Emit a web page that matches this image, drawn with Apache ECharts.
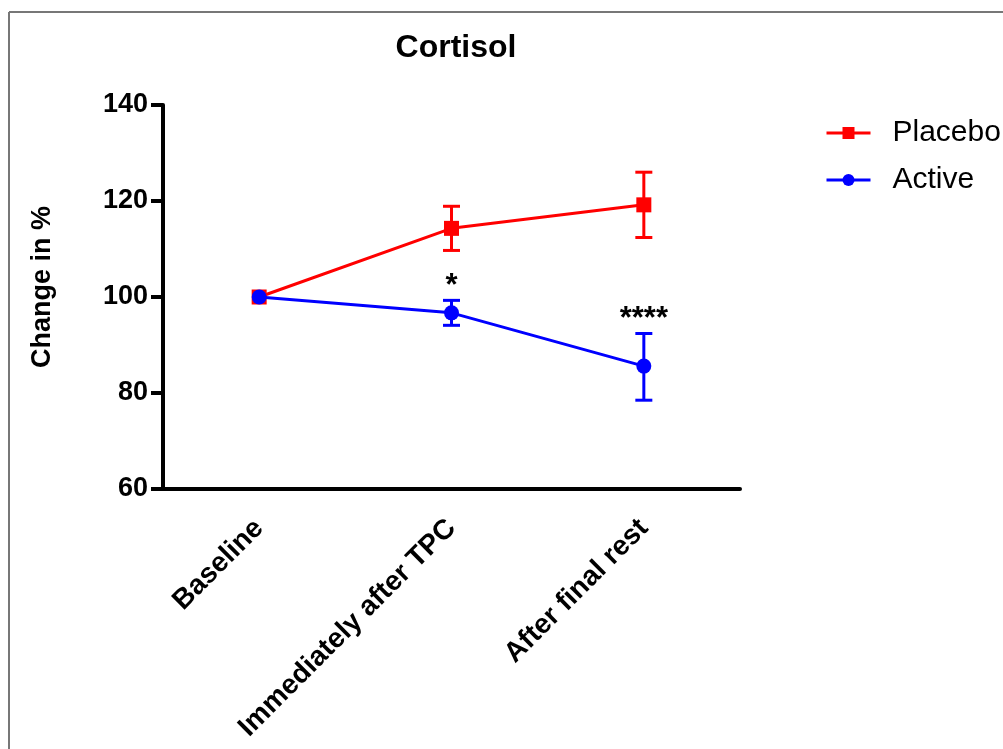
<!DOCTYPE html>
<html>
<head>
<meta charset="utf-8">
<script src="https://cdn.jsdelivr.net/npm/echarts@6/dist/echarts.min.js"></script>
<style>
html,body{margin:0;padding:0;background:#fff;}
#chart{width:1003px;height:749px;}
</style>
</head>
<body>
<div id="chart"></div>
<script>
var categories = ['Baseline', 'Immediately after TPC', 'After final rest'];
var placeboMean = [100, 114.3, 119.2];
var placeboLow = [100, 109.7, 112.4];
var placeboHigh = [100, 118.9, 126.0];
var activeMean = [100, 96.7, 85.6];
var activeLow = [100, 94.1, 78.5];
var activeHigh = [100, 99.3, 92.4];
var significance = ['', '*', '****'];
var yTicks = [60, 80, 100, 120, 140];

var chart = echarts.init(document.getElementById('chart'), null, {renderer: 'canvas'});
var FONT = 'Liberation Sans, Arial, Helvetica, sans-serif';

function errorBars(low, high, color) {
  return {
    type: 'custom',
    silent: true,
    z: 3,
    data: categories.map(function (c, i) { return [i, low[i], high[i]]; }),
    renderItem: function (params, api) {
      var x = api.value(0);
      var lo = api.coord([x, api.value(1)]);
      var hi = api.coord([x, api.value(2)]);
      var w = 8.5;
      if (Math.abs(lo[1] - hi[1]) < 1) return null;
      var style = {stroke: color, lineWidth: 3, fill: null};
      return {
        type: 'group',
        children: [
          {type: 'line', shape: {x1: lo[0], y1: lo[1], x2: hi[0], y2: hi[1]}, style: style},
          {type: 'line', shape: {x1: hi[0] - w, y1: hi[1], x2: hi[0] + w, y2: hi[1]}, style: style},
          {type: 'line', shape: {x1: lo[0] - w, y1: lo[1], x2: lo[0] + w, y2: lo[1]}, style: style}
        ]
      };
    }
  };
}

var option = {
  animation: false,
  backgroundColor: '#ffffff',
  title: {
    text: 'Cortisol',
    left: 451,
    textAlign: 'center',
    top: 27,
    textStyle: {fontFamily: FONT, fontSize: 32, fontWeight: 'bold', color: '#000'}
  },
  legend: {
    left: 820,
    top: 113,
    orient: 'vertical',
    itemWidth: 44,
    itemHeight: 15,
    itemGap: 17,
    data: ['Placebo', 'Active'],
    lineStyle: {width: 3},
    textStyle: {fontFamily: FONT, fontSize: 30, color: '#000', padding: [0, 0, 0, 17]}
  },
  grid: {left: 163, right: 263, top: 105, bottom: 260, containLabel: false},
  xAxis: {
    type: 'category',
    data: categories,
    boundaryGap: true,
    axisLine: {lineStyle: {color: '#000', width: 4}},
    axisTick: {alignWithLabel: true, length: 13, lineStyle: {color: '#000', width: 4}},
    axisLabel: {
      rotate: 45, margin: 35, interval: 0,
      fontFamily: FONT, fontSize: 28, fontWeight: 'bold', color: '#000'
    },
    splitLine: {show: false}
  },
  yAxis: {
    type: 'value',
    min: yTicks[0],
    max: yTicks[yTicks.length - 1],
    interval: 20,
    name: 'Change in %',
    nameLocation: 'middle',
    nameRotate: 90,
    nameGap: 107,
    nameTextStyle: {fontFamily: FONT, fontSize: 27, fontWeight: 'bold', color: '#000', padding: [0, 0, 0, 20]},
    axisLine: {show: true, lineStyle: {color: '#000', width: 4}},
    axisTick: {show: true, length: 12, lineStyle: {color: '#000', width: 4}},
    axisLabel: {margin: 15, fontFamily: FONT, fontSize: 27, fontWeight: 'bold', color: '#000'},
    splitLine: {show: false}
  },
  graphic: [
    {type: 'line', shape: {x1: 9, y1: 12, x2: 9, y2: 749}, style: {stroke: '#777', lineWidth: 2}, z: 100},
    {type: 'line', shape: {x1: 9, y1: 12, x2: 1003, y2: 12}, style: {stroke: '#777', lineWidth: 2}, z: 100}
  ],
  series: [
    errorBars(placeboLow, placeboHigh, '#ff0000'),
    errorBars(activeLow, activeHigh, '#0000ff'),
    {
      name: 'Placebo',
      type: 'line',
      data: placeboMean,
      symbol: 'rect',
      symbolSize: 15,
      z: 4,
      lineStyle: {color: '#ff0000', width: 3},
      itemStyle: {color: '#ff0000'}
    },
    {
      name: 'Active',
      type: 'line',
      data: activeMean,
      symbol: 'circle',
      symbolSize: 15,
      z: 5,
      lineStyle: {color: '#0000ff', width: 3},
      itemStyle: {color: '#0000ff'}
    },
    {
      type: 'custom',
      silent: true,
      z: 6,
      data: categories.map(function (c, i) { return [i, activeHigh[i]]; }),
      renderItem: function (params, api) {
        var p = api.coord([api.value(0), api.value(1)]);
        var s = significance[params.dataIndex];
        if (!s) return null;
        return {
          type: 'text',
          x: p[0], y: p[1] - 14,
          style: {text: s, fill: '#000', font: 'bold 31px ' + FONT, align: 'center', verticalAlign: 'middle'}
        };
      }
    }
  ]
};
chart.setOption(option);
</script>
</body>
</html>
